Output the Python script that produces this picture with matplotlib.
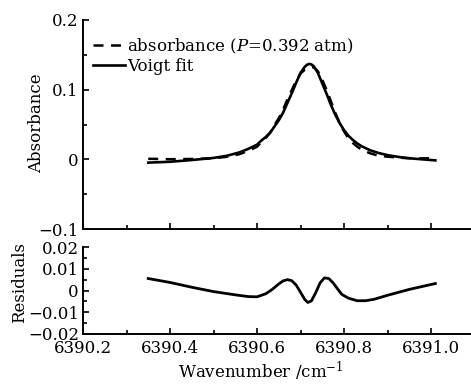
import matplotlib
matplotlib.use("Agg")
import matplotlib.pyplot as plt
from matplotlib.ticker import MultipleLocator, FixedLocator, FixedFormatter

# ---------------- data ----------------
wn_fit = [6390.35, 6390.40, 6390.45, 6390.50, 6390.53, 6390.56, 6390.58,
          6390.60, 6390.61, 6390.62, 6390.63, 6390.64, 6390.65, 6390.66,
          6390.67, 6390.68, 6390.69, 6390.70, 6390.71, 6390.715, 6390.72,
          6390.725, 6390.73, 6390.74, 6390.75, 6390.76, 6390.77, 6390.78,
          6390.79, 6390.80, 6390.81, 6390.82, 6390.83, 6390.84, 6390.85,
          6390.86, 6390.88, 6390.90, 6390.93, 6390.96, 6391.01]
voigt_fit = [-0.0047, -0.0035, -0.0010, 0.0020, 0.0050, 0.0100, 0.0150,
             0.0210, 0.0270, 0.0320, 0.0380, 0.0470, 0.0560, 0.0670,
             0.0810, 0.0950, 0.1100, 0.1240, 0.1330, 0.1357, 0.1370,
             0.1362, 0.1340, 0.1240, 0.1090, 0.0940, 0.0780, 0.0640,
             0.0520, 0.0420, 0.0340, 0.0280, 0.0230, 0.0190, 0.0160,
             0.0130, 0.0090, 0.0060, 0.0030, 0.0010, -0.0015]
absorbance = [0.0008, 0.0002, 0.0005, 0.0015, 0.0036, 0.0075, 0.0122,
              0.0181, 0.0248, 0.0305, 0.0382, 0.0490, 0.0590, 0.0714,
              0.0860, 0.0995, 0.1125, 0.1232, 0.1288, 0.1302, 0.1317,
              0.1314, 0.1325, 0.1265, 0.1140, 0.0997, 0.0832, 0.0668,
              0.0522, 0.0402, 0.0305, 0.0237, 0.0183, 0.0143, 0.0113,
              0.0087, 0.0050, 0.0038, 0.0022, 0.0012, 0.0017]

wn_res = [6390.35, 6390.40, 6390.45, 6390.50, 6390.55, 6390.58, 6390.60,
          6390.62, 6390.635, 6390.65, 6390.66, 6390.67, 6390.68, 6390.69,
          6390.70, 6390.71, 6390.717, 6390.725, 6390.735, 6390.745,
          6390.755, 6390.765, 6390.775, 6390.785, 6390.795, 6390.81,
          6390.83, 6390.85, 6390.87, 6390.90, 6390.95, 6391.01]
residuals = [0.0055, 0.0037, 0.0015, -0.0005, -0.0020, -0.0028, -0.0029,
             -0.0015, 0.0005, 0.0030, 0.0044, 0.0050, 0.0045, 0.0025,
             -0.0008, -0.0042, -0.0055, -0.0048, -0.0010, 0.0035,
             0.0058, 0.0055, 0.0035, 0.0008, -0.0018, -0.0035,
             -0.0047, -0.0047, -0.0040, -0.0022, 0.0005, 0.0032]

x_ticks = [6390.2, 6390.4, 6390.6, 6390.8, 6391.0]
x_ticklabels = ["6390.2", "6390.4", "6390.6", "6390.8", "6391.0"]
abs_ticks = [-0.1, 0.0, 0.1, 0.2]
abs_ticklabels = ["\u22120.1", "0", "0.1", "0.2"]
res_ticks = [-0.02, -0.01, 0.0, 0.01, 0.02]
res_ticklabels = ["\u22120.02", "\u22120.01", "0", "0.01", "0.02"]

label_data = "absorbance ($P$=0.392 atm)"
label_fit = "Voigt fit"

# ---------------- style ----------------
plt.rcParams["font.family"] = ["DejaVu Serif"]
plt.rcParams["mathtext.fontset"] = "dejavuserif"
plt.rcParams["font.size"] = 12

fig = plt.figure(figsize=(4.71, 3.85), dpi=100)
W, H = 471.0, 385.0
left = 83 / W
ax1 = fig.add_axes([left, 1 - 229 / H, 1.0 - left, (229 - 20) / H])
ax2 = fig.add_axes([left, 1 - 334 / H, 1.0 - left, (334 - 247) / H])

xmin, xmax = 6390.2, 6390.2 + (W - 83) / 435.0

ax1.plot(wn_fit, absorbance, color="black", lw=1.8, ls=(0, (4, 3)),
         label=label_data)
ax1.plot(wn_fit, voigt_fit, color="black", lw=1.9, label=label_fit)
ax2.plot(wn_res, residuals, color="black", lw=2.0)

for ax in (ax1, ax2):
    ax.set_xlim(xmin, xmax)
    ax.spines["top"].set_visible(False)
    ax.spines["right"].set_visible(False)
    for s in ("left", "bottom"):
        ax.spines[s].set_linewidth(1.4)
    ax.xaxis.set_major_locator(FixedLocator(x_ticks))
    ax.xaxis.set_minor_locator(MultipleLocator(0.1))
    ax.tick_params(which="both", direction="in", width=1.2, top=False,
                   right=False, pad=3)
    ax.tick_params(which="major", length=4.5)
    ax.tick_params(which="minor", length=3)

ax1.set_ylim(-0.1, 0.2)
ax1.yaxis.set_major_locator(FixedLocator(abs_ticks))
ax1.yaxis.set_major_formatter(FixedFormatter(abs_ticklabels))
ax1.yaxis.set_minor_locator(MultipleLocator(0.05))
ax1.tick_params(axis="x", which="both", labelbottom=False)

ax2.set_ylim(-0.02, 0.02)
ax2.yaxis.set_major_locator(FixedLocator(res_ticks))
ax2.yaxis.set_major_formatter(FixedFormatter(res_ticklabels))
ax2.yaxis.set_minor_locator(MultipleLocator(0.005))
ax2.xaxis.set_major_formatter(FixedFormatter(x_ticklabels))
ax2.tick_params(axis="x", which="both", pad=4)

ax1.set_ylabel("Absorbance")
ax1.yaxis.set_label_coords(-0.098, 0.507)
ax2.set_ylabel("Residuals")
ax2.yaxis.set_label_coords(-0.142, 0.59)
ax2.set_xlabel("Wavenumber /cm$^{-1}$")
ax2.xaxis.set_label_coords(0.457, -0.30)

leg = ax1.legend(loc="upper left", bbox_to_anchor=(0.0, 0.97), frameon=False,
                 handlelength=1.9, handletextpad=0.15, borderaxespad=0.2,
                 labelspacing=0.15, fontsize=12)

fig.savefig("out.png", dpi=100)
